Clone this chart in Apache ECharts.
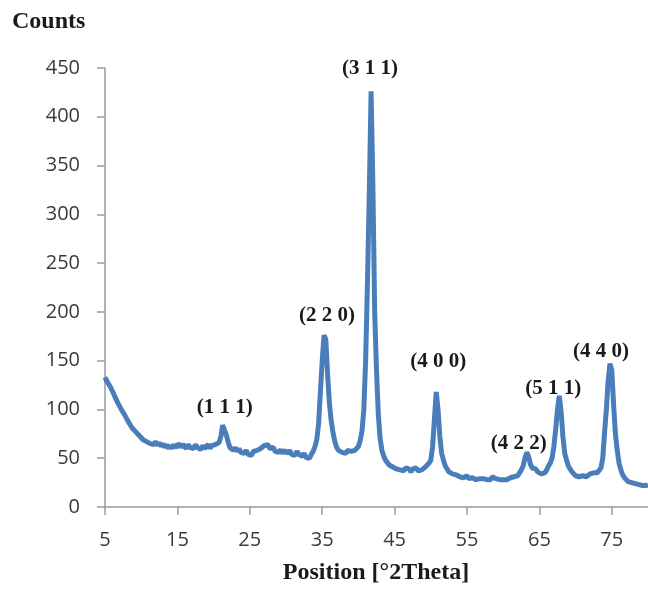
<!DOCTYPE html>
<html>
<head>
<meta charset="utf-8">
<script src="https://cdn.jsdelivr.net/npm/echarts@6/dist/echarts.min.js"></script>
<style>html,body{margin:0;padding:0;background:#fff}#c{width:648px;height:589px}</style>
</head>
<body>
<div id="c"></div>
<script>
// 2θ sampling grid: 5.00 to 80.00 in 0.25° steps
const thetaStart = 5, thetaStep = 0.25;
// Counts (4 values per degree, 5.00 .. 80.00)
const counts = [
133,129,128,123, 121,115,113,107, 105,100,99,94, 92,87,86,81, 80,77,77,73,
73,69,71,67, 69,65,67,64, 67,63,66,62, 65,61,64,60, 63,60,64,61,
62,65,61,64, 62,60,64,61, 63,60,64,61, 62,59,63,60, 61,64,60,63,
61,64,62,66, 72,84,82,74, 67,61,63,58, 61,57,60,56, 58,55,58,54,
56,53,57,55, 58,56,60,59, 63,61,64,60, 58,61,57,59, 56,59,55,58,
57,55,58,54, 56,53,57,54, 55,52,55,51, 53,50,54,57, 62,69,85,118,
150,176,172,135, 106,88,76,67, 61,58,60,56, 58,55,58,56, 57,55,58,58,
62,68,78,100, 150,230,320,426, 330,200,140,95, 70,58,52,48, 46,43,44,41,
42,39,41,38, 40,37,40,38, 39,36,39,37, 40,37,39,38, 38,41,41,45,
48,62,90,118, 100,72,55,48, 42,39,36,36, 34,36,33,34, 31,33,30,32,
32,29,31,30, 31,28,30,29, 31,29,31,28, 30,28,31,29, 29,31,28,30,
28,30,28,29, 30,28,31,33, 32,35,38,42, 50,56,52,44, 40,38,39,36,
35,34,36,35, 38,42,45,50, 62,80,100,114, 98,72,55,48, 42,39,36,34,
32,33,31,33, 32,34,31,33, 34,32,35,33, 35,37,40,50, 76,100,130,147,
140,105,75,58, 45,38,33,30, 28,26,27,25, 26,24,25,23, 24,22,24,22,
23
];
// Peak annotations (Miller indices, peak 2θ, peak counts)
const peakNames = ['(1 1 1)','(2 2 0)','(3 1 1)','(4 0 0)','(4 2 2)','(5 1 1)','(4 4 0)'];
const peakTheta = [21.25, 35.25, 41.75, 50.75, 63.25, 67.75, 74.75];
const peakCounts = [84, 176, 426, 118, 56, 114, 147];
// Axis ticks
const xTicks = [5, 15, 25, 35, 45, 55, 65, 75];
const xMax = 80;
const yTicks = [0, 50, 100, 150, 200, 250, 300, 350, 400, 450];

// label pixel offsets from each peak (style)
const labelOffsets = [[2,-17],[3,-20],[-1,-23],[2,-30],[-8,-9],[-6,-7],[-9,-12]];

const lineData = counts.map((v, i) => [thetaStart + i * thetaStep, v]);

const chart = echarts.init(document.getElementById('c'), null, {renderer: 'canvas'});
const axisColor = '#9a9a9a';
const tickFont = {color: '#3a3a3a', fontFamily: 'Open Sans', fontSize: 20};
chart.setOption({
  animation: false,
  backgroundColor: '#ffffff',
  grid: {left: 105, right: 0, top: 68, bottom: 82, containLabel: false},
  xAxis: {
    type: 'value', min: xTicks[0], max: xMax, interval: xTicks[1] - xTicks[0],
    axisLine: {show: true, lineStyle: {color: axisColor, width: 1.5}},
    axisTick: {show: true, length: 8, lineStyle: {color: axisColor, width: 1.5}},
    splitLine: {show: false},
    axisLabel: Object.assign({showMaxLabel: false, margin: 23}, tickFont),
  },
  yAxis: {
    type: 'value', min: yTicks[0], max: yTicks[yTicks.length - 1], interval: yTicks[1] - yTicks[0],
    axisLine: {show: true, lineStyle: {color: axisColor, width: 1.5}},
    axisTick: {show: true, length: 8, lineStyle: {color: axisColor, width: 1.5}},
    splitLine: {show: false},
    axisLabel: Object.assign({margin: 25}, tickFont),
  },
  graphic: [
    {type: 'text', left: 12, top: 10, style: {text: 'Counts', font: 'bold 24px "Liberation Serif"', fill: '#1a1a1a'}},
    {type: 'text', x: 376, y: 561, style: {text: 'Position [°2Theta]', font: 'bold 24px "Liberation Serif"', fill: '#1a1a1a', textAlign: 'center', textVerticalAlign: 'top'}}
  ],
  series: [{
    type: 'line',
    data: lineData,
    showSymbol: false,
    smooth: false,
    lineStyle: {color: '#4a7ebb', width: 5},
    z: 2,
    markPoint: {
      symbol: 'circle', symbolSize: 0,
      data: peakNames.map((n, i) => ({
        coord: [peakTheta[i], peakCounts[i]],
        value: n,
        label: {show: true, formatter: n, offset: labelOffsets[i], position: 'inside',
          color: '#1a1a1a', fontFamily: 'Liberation Serif', fontWeight: 'bold', fontSize: 21}
      }))
    }
  }]
});
</script>
</body>
</html>
